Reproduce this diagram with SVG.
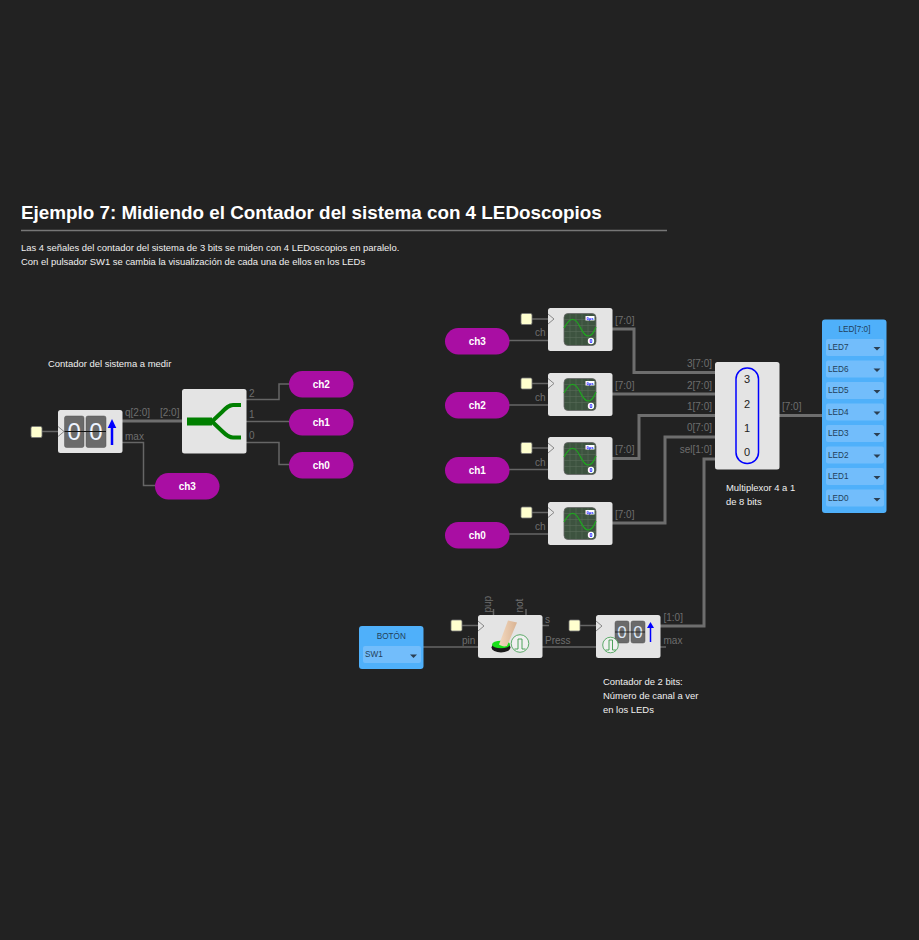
<svg xmlns="http://www.w3.org/2000/svg" width="919" height="940" viewBox="0 0 919 940">
<style>
text{font-family:"Liberation Sans",Arial,sans-serif}
.t{font-size:9.45px;fill:#f0f0f0}
.l{font-size:10px;fill:#6e6e6e}
.p{fill:#a90ea3}
.pt{font-size:10px;font-weight:bold;fill:#fff;text-anchor:middle}
.b{fill:#e4e4e4}
.w1{fill:none;stroke:#666;stroke-width:1.5}
.w3{fill:none;stroke:#6e6e6e;stroke-width:3}
.in{fill:#ffffcf;stroke:#777;stroke-width:.8}
.ck{fill:none;stroke:#888;stroke-width:1}
.panel{fill:#4fb0fa}
.row{fill:#72bdfb}
.lt{font-size:8.2px;fill:#223f5a}
.tri{fill:#2b3f52}
.dig{fill:#6a6a6a;stroke:#555;stroke-width:.5}
.num{font-size:24px;fill:#eef4ff;text-anchor:middle}
.num2{font-size:17px;fill:#dfe8f5;text-anchor:middle}
.mx{font-size:11px;fill:#222;text-anchor:middle}
.sb{font-size:4px;font-weight:bold;fill:#00f;text-anchor:middle}
</style>
<defs>
<g id="scope">
<rect x="16" y="5.500" width="32" height="32" rx="4" fill="#3d533f" stroke="#666" stroke-width=".8"/>
<path d="M22 6V37M28 6V37M34 6V37M40 6V37M16 11.500H48M16 17.500H48M16 23.500H48M16 29.500H48" stroke="#596b59" stroke-width=".6" fill="none"/>
<path d="M16 20C21 11 25 9 29 14S35 28 40 28 46 23 48 19" fill="none" stroke="#1fa51f" stroke-width="1.200"/>
<rect x="37.500" y="8" width="9" height="4.500" fill="#fff"/>
<text class="sb" x="42" y="11.800">0µs</text>
<circle cx="43" cy="33" r="3.200" fill="#fff"/>
<text class="sb" x="43" y="34.600" style="font-size:5px">0</text>
</g>
<g id="led"><path d="M0 0H7L3.500 3.500Z" class="tri"/></g>
<linearGradient id="finger" x1="0" y1="0" x2="1" y2="0"><stop offset="0" stop-color="#f3d9bf"/><stop offset="1" stop-color="#d9b393"/></linearGradient>
</defs>
<rect width="919" height="940" fill="#222"/>
<text x="21" y="219" font-size="18.840" font-weight="bold" fill="#fff">Ejemplo 7: Midiendo el Contador del sistema con 4 LEDoscopios</text>
<path d="M21 230.500H667" stroke="#777" stroke-width="1.500"/>
<text class="t" x="21" y="251">Las 4 señales del contador del sistema de 3 bits se miden con 4 LEDoscopios en paralelo.</text>
<text class="t" x="21" y="265">Con el pulsador SW1 se cambia la visualización de cada una de ellos en los LEDs</text>
<text class="t" x="48" y="367">Contador del sistema a medir</text>
<text class="t" x="726" y="491">Multiplexor 4 a 1</text>
<text class="t" x="726" y="505">de 8 bits</text>
<text class="t" x="603" y="685">Contador de 2 bits:</text>
<text class="t" x="603" y="699">Número de canal a ver</text>
<text class="t" x="603" y="713">en los LEDs</text>

<g id="connectors">
<path class="w1" d="M42 431.500H58M532 319H548M532 383.500H548M532 448H548M532 512.500H548M462 625.500H478M580 625.500H596"/>
<path class="w3" d="M122 421H182"/>
<path class="w1" d="M246 399.500H279V384H289M246 421.500H289M246 442.500H279V464.500H289M122 442.500H143.500V485.500H155"/>
<path class="w1" d="M509 340.500H548M509 405H548M509 469.500H548M509 534H548"/>
<path class="w3" d="M612 329H634V372.500H715M612 394H715M612 458.500H639V415.500H715M612 523H665V437H715M660 626H704V459H715M779 415.500H822"/>
<path class="w1" d="M423 647H478M542 647H596M660 647H666M542 625.500H549M493.500 615V609M526 615V609"/>
</g>

<g class="labels">
<text class="l" x="125" y="415.500">q[2:0]</text>
<text class="l" x="160" y="415.500">[2:0]</text>
<text class="l" x="249" y="397">2</text>
<text class="l" x="249" y="417.500">1</text>
<text class="l" x="249" y="439">0</text>
<text class="l" x="125" y="439.500">max</text>
<text class="l" x="535" y="336">ch</text>
<text class="l" x="535" y="401">ch</text>
<text class="l" x="535" y="466">ch</text>
<text class="l" x="535" y="530">ch</text>
<text class="l" x="615" y="324">[7:0]</text>
<text class="l" x="615" y="388.500">[7:0]</text>
<text class="l" x="615" y="453">[7:0]</text>
<text class="l" x="615" y="517.500">[7:0]</text>
<text class="l" x="712" y="367" text-anchor="end">3[7:0]</text>
<text class="l" x="712" y="388.500" text-anchor="end">2[7:0]</text>
<text class="l" x="712" y="410" text-anchor="end">1[7:0]</text>
<text class="l" x="712" y="431" text-anchor="end">0[7:0]</text>
<text class="l" x="712" y="453" text-anchor="end">sel[1:0]</text>
<text class="l" x="782" y="410">[7:0]</text>
<text class="l" x="462" y="644">pin</text>
<text class="l" x="545" y="623">s</text>
<text class="l" x="545" y="644">Press</text>
<text class="l" x="663.500" y="620.500">[1:0]</text>
<text class="l" x="663.500" y="644">max</text>
<text class="l" transform="translate(491,612.500) rotate(-90)">pup</text>
<text class="l" transform="translate(523,612.500) rotate(-90)">not</text>
</g>

<g id="in-counter"><rect class="in" x="31" y="426.500" width="11" height="11" rx="1.500"/></g>
<g id="in-s3"><rect class="in" x="521" y="313.500" width="11" height="11" rx="1.500"/></g>
<g id="in-s2"><rect class="in" x="521" y="378" width="11" height="11" rx="1.500"/></g>
<g id="in-s1"><rect class="in" x="521" y="442.500" width="11" height="11" rx="1.500"/></g>
<g id="in-s0"><rect class="in" x="521" y="507" width="11" height="11" rx="1.500"/></g>
<g id="in-puls"><rect class="in" x="451" y="620" width="11" height="11" rx="1.500"/></g>
<g id="in-c2"><rect class="in" x="569" y="620" width="11" height="11" rx="1.500"/></g>

<g id="counter3">
<rect class="b" x="58" y="410" width="64.500" height="43" rx="2.500"/>
<path class="ck" d="M58 426.500L64 431.500L58 436.500"/>
<rect class="dig" x="64.500" y="416" width="19.500" height="31.500" rx="2"/>
<rect class="dig" x="86" y="416" width="20" height="31.500" rx="2"/>
<text class="num" x="74.300" y="440">0</text>
<text class="num" x="96" y="440">0</text>
<path d="M64.500 431.500H106" stroke="#111" stroke-width="1"/>
<path d="M112 445V425" stroke="#00f" stroke-width="2.500"/>
<path d="M107.700 428L112 419L116.300 428Z" fill="#00f"/>
</g>

<g id="splitter">
<rect class="b" x="182" y="389" width="64.500" height="64.500" rx="2.500"/>
<path d="M187 421.500H212L222 412C226 408 229 405 233 405H241M212 421.500L222 431C226 435 229 437.500 233 437.500H241" fill="none" stroke="#007f00" stroke-width="4"/>
<path d="M187 421.500H212" stroke="#007f00" stroke-width="8"/>
</g>

<g id="pill-ch3a"><rect class="p" x="155" y="473" width="64.500" height="26.500" rx="13.250"/><text class="pt" x="187.300" y="490">ch3</text></g>
<g id="pill-ch2a"><rect class="p" x="289" y="371" width="64.500" height="26.500" rx="13.250"/><text class="pt" x="321.300" y="388">ch2</text></g>
<g id="pill-ch1a"><rect class="p" x="289" y="409" width="64.500" height="26.500" rx="13.250"/><text class="pt" x="321.300" y="426">ch1</text></g>
<g id="pill-ch0a"><rect class="p" x="289" y="452" width="64.500" height="26.500" rx="13.250"/><text class="pt" x="321.300" y="469">ch0</text></g>
<g id="pill-ch3b"><rect class="p" x="445" y="328" width="64.500" height="26.500" rx="13.250"/><text class="pt" x="477.300" y="345">ch3</text></g>
<g id="pill-ch2b"><rect class="p" x="445" y="392" width="64.500" height="26.500" rx="13.250"/><text class="pt" x="477.300" y="409">ch2</text></g>
<g id="pill-ch1b"><rect class="p" x="445" y="457" width="64.500" height="26.500" rx="13.250"/><text class="pt" x="477.300" y="474">ch1</text></g>
<g id="pill-ch0b"><rect class="p" x="445" y="522" width="64.500" height="26.500" rx="13.250"/><text class="pt" x="477.300" y="539">ch0</text></g>

<g id="scope3" transform="translate(548,308)"><rect class="b" width="64.500" height="43" rx="2.500"/><path class="ck" d="M0 6L6 11L0 16"/><use href="#scope"/></g>
<g id="scope2" transform="translate(548,373)"><rect class="b" width="64.500" height="43" rx="2.500"/><path class="ck" d="M0 5.500L6 10.500L0 15.500"/><use href="#scope"/></g>
<g id="scope1" transform="translate(548,437)"><rect class="b" width="64.500" height="43" rx="2.500"/><path class="ck" d="M0 6L6 11L0 16"/><use href="#scope"/></g>
<g id="scope0" transform="translate(548,502)"><rect class="b" width="64.500" height="43" rx="2.500"/><path class="ck" d="M0 5.500L6 10.500L0 15.500"/><use href="#scope"/></g>

<g id="mux">
<rect class="b" x="715" y="362" width="64.500" height="107.500" rx="2.500"/>
<rect x="736" y="368" width="22.500" height="95.500" rx="11" fill="none" stroke="#00f" stroke-width="1.500"/>
<text class="mx" x="747" y="383">3</text>
<text class="mx" x="747" y="408">2</text>
<text class="mx" x="747" y="432">1</text>
<text class="mx" x="747" y="456">0</text>
</g>

<g id="leds">
<rect class="panel" x="822" y="319.500" width="64.500" height="193.500" rx="3"/>
<text class="lt" x="854.500" y="331.500" text-anchor="middle">LED[7:0]</text>
<g><rect class="row" x="826" y="339" width="58" height="17" rx="2"/><text class="lt" x="828" y="350">LED7</text><use href="#led" x="873.500" y="347"/></g>
<g><rect class="row" x="826" y="360.500" width="58" height="17" rx="2"/><text class="lt" x="828" y="372">LED6</text><use href="#led" x="873.500" y="368.500"/></g>
<g><rect class="row" x="826" y="382" width="58" height="17" rx="2"/><text class="lt" x="828" y="393">LED5</text><use href="#led" x="873.500" y="390"/></g>
<g><rect class="row" x="826" y="403.500" width="58" height="17" rx="2"/><text class="lt" x="828" y="415">LED4</text><use href="#led" x="873.500" y="411.500"/></g>
<g><rect class="row" x="826" y="425" width="58" height="17" rx="2"/><text class="lt" x="828" y="436">LED3</text><use href="#led" x="873.500" y="433"/></g>
<g><rect class="row" x="826" y="446.500" width="58" height="17" rx="2"/><text class="lt" x="828" y="458">LED2</text><use href="#led" x="873.500" y="454.500"/></g>
<g><rect class="row" x="826" y="468" width="58" height="17" rx="2"/><text class="lt" x="828" y="479">LED1</text><use href="#led" x="873.500" y="476"/></g>
<g><rect class="row" x="826" y="489.500" width="58" height="17" rx="2"/><text class="lt" x="828" y="501">LED0</text><use href="#led" x="873.500" y="498"/></g>
</g>

<g id="boton">
<rect class="panel" x="359" y="626" width="64.500" height="43" rx="3"/>
<text class="lt" x="391.300" y="639" text-anchor="middle">BOTÓN</text>
<rect class="row" x="363" y="646" width="58" height="17" rx="2"/>
<text class="lt" x="365" y="657">SW1</text>
<use href="#led" x="410" y="654.500"/>
</g>

<g id="pulsador">
<rect class="b" x="478" y="615" width="64.500" height="43" rx="2.500"/>
<path class="ck" d="M478 621L484 626L478 631"/>
<ellipse cx="501" cy="647.500" rx="9.500" ry="5" fill="#1a1a1a"/>
<ellipse cx="501" cy="644.500" rx="9" ry="3.800" fill="#18e018"/>
<path d="M499 644.500L508 620.500L517 622.500L507 646C504 647 501 646 499 644.500Z" fill="url(#finger)"/>
<circle cx="520" cy="643.500" r="8.800" fill="#f0f0f0" stroke="#3a9a4a" stroke-width=".8"/>
<path d="M514.500 649H518V639H522V649H525.500" fill="none" stroke="#3a9a4a" stroke-width=".9"/>
</g>

<g id="counter2">
<rect class="b" x="596" y="615" width="64.500" height="43" rx="2.500"/>
<path class="ck" d="M596 621L602 626L596 631"/>
<rect class="dig" x="615" y="621" width="14" height="22" rx="2"/>
<rect class="dig" x="631" y="621" width="14" height="22" rx="2"/>
<text class="num2" x="622" y="638">0</text>
<text class="num2" x="638" y="638">0</text>
<path d="M615 632H645" stroke="#111" stroke-width=".8"/>
<path d="M650.500 642V626" stroke="#00f" stroke-width="1.500"/>
<path d="M647 628L650.500 622L654 628Z" fill="#00f"/>
<circle cx="610.500" cy="645" r="7.800" fill="#f0f0f0" stroke="#3a9a4a" stroke-width=".8"/>
<path d="M605.500 650H609V640H612.500V650H616" fill="none" stroke="#3a9a4a" stroke-width=".9"/>
</g>
</svg>
